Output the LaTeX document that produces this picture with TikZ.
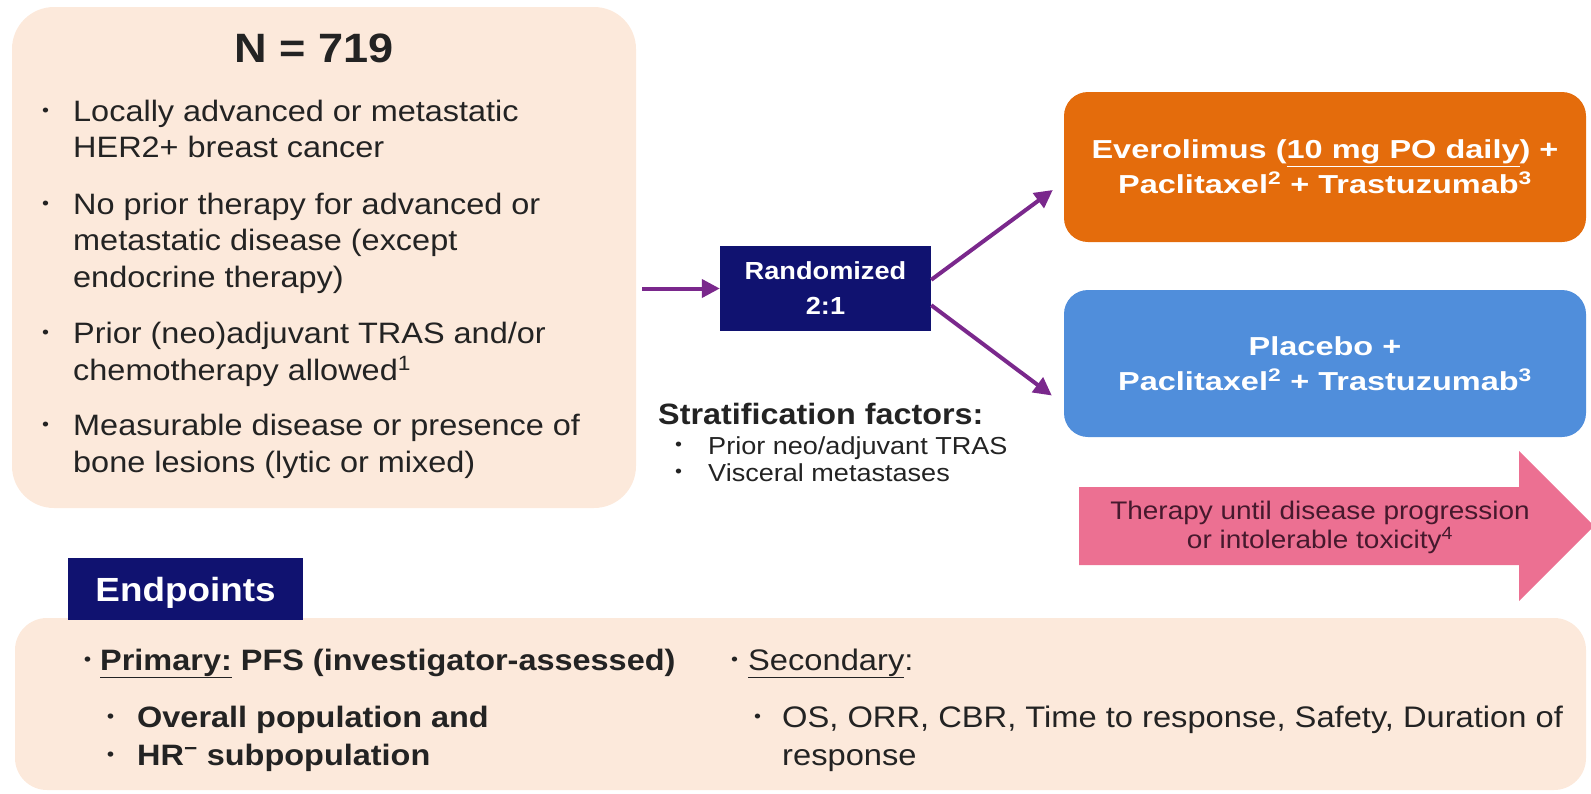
\documentclass[tikz,border=0pt]{standalone}
\usepackage{fontspec}
\setmainfont{Liberation Sans}[FakeStretch=1.1]
\newfontfamily\armfont{Liberation Sans}[FakeStretch=1.25]
\usepackage{tikz}
\usetikzlibrary{positioning, arrows.meta, calc}

\definecolor{peach}{RGB}{252,233,219}
\definecolor{navyblue}{RGB}{16,18,112}
\definecolor{armorange}{RGB}{228,108,12}
\definecolor{armblue}{RGB}{80,142,219}
\definecolor{linkpurple}{RGB}{122,40,140}
\definecolor{therapypink}{RGB}{236,112,146}
\definecolor{therapytext}{RGB}{70,25,45}
\definecolor{textgrey}{RGB}{35,35,35}

% small round bullet, lifted to the middle of the line
\newcommand{\dotbullet}{\raisebox{0.3ex}{\fontsize{18}{18}\selectfont\textbullet}}
\newcommand{\bulletbox}[1]{\makebox[#1][l]{\dotbullet}}

\begin{document}
\begin{tikzpicture}[x=1pt, y=-1pt,
    panel/.style={fill=peach, rounded corners=42pt},
    armbox/.style={rounded corners=24pt, text=white, align=center, minimum width=522pt, minimum height=150pt, font=\armfont\fontsize{26}{35}\selectfont\bfseries},
    navybox/.style={fill=navyblue, text=white, align=center},
    link/.style={draw=linkpurple, line width=4pt, -{Triangle[length=18pt, width=18pt]}},
    listtext/.style={inner sep=0pt, anchor=base west, text=textgrey},
]

\useasboundingbox (0,0) rectangle (1591,793);

% Eligibility panel
\node[panel, minimum width=624pt, minimum height=501pt] (criteria) at (324,257.5) {};
\node[anchor=base, text=textgrey, font=\fontsize{41}{41}\selectfont\bfseries] (count) at (314.5,62) {N = 719};
\node[listtext, font=\fontsize{29.5}{36.5}\selectfont] (critlist) at (42,121) {%
  \begin{tabular}[t]{@{}l@{}}
  \bulletbox{31pt}Locally advanced or metastatic\\
  \hspace{31pt}HER2+ breast cancer\\[20pt]
  \bulletbox{31pt}No prior therapy for advanced or\\
  \hspace{31pt}metastatic disease (except\\
  \hspace{31pt}endocrine therapy)\\[20pt]
  \bulletbox{31pt}Prior (neo)adjuvant TRAS and/or\\
  \hspace{31pt}chemotherapy allowed\textsuperscript{1}\\[19pt]
  \bulletbox{31pt}Measurable disease or presence of\\
  \hspace{31pt}bone lesions (lytic or mixed)
  \end{tabular}};

% Randomisation and arms
\node[navybox, minimum width=211pt, minimum height=85pt, font=\fontsize{24.7}{35}\selectfont\bfseries] (rand) at (825.5,288.5) {Randomized\\2:1};
\node[armbox, fill=armorange] (evero) at (1325,167) {Everolimus (\underline{10 mg PO daily}) +\\Paclitaxel\textsuperscript{2} + Trastuzumab\textsuperscript{3}};
\node[armbox, fill=armblue, minimum height=147pt] (placebo) at (1325,363.5) {Placebo +\\Paclitaxel\textsuperscript{2} + Trastuzumab\textsuperscript{3}};

\coordinate (randin) at (criteria.east |- rand.west);
\draw[link] ([xshift=6pt]randin) -- (rand.west);
\draw[link] ([yshift=-34pt]rand.north east) -- ([xshift=-11pt, yshift=-23pt]evero.west);
\draw[link] ([yshift=26pt]rand.south east) -- ([xshift=-12pt, yshift=-32pt]placebo.west);

% Stratification
\node[listtext, font=\fontsize{29.4}{33}\selectfont\bfseries] (strat) at (658,424) {Stratification factors:};
\node[listtext, font=\fontsize{24.6}{27}\selectfont] (stratlist) at (675,454) {%
  \begin{tabular}[t]{@{}l@{}}
  \bulletbox{33pt}Prior neo/adjuvant TRAS\\
  \bulletbox{33pt}Visceral metastases
  \end{tabular}};

% Treatment duration
\fill[therapypink] (1079,487) -- (1519,487) -- (1519,451) -- (1594,526) -- (1519,601) -- (1519,565) -- (1079,565) -- cycle;
\node[text=therapytext, align=center, font=\fontsize{25.4}{29}\selectfont] (therapy) at (1320,527) {Therapy until disease progression\\or intolerable toxicity\textsuperscript{4}};

% Endpoints panel
\node[panel, rounded corners=32pt, minimum width=1571pt, minimum height=172pt] (endpanel) at (800.5,704) {};
\node[navybox, minimum width=235pt, minimum height=62pt, text depth=0pt, font=\fontsize{33.5}{33.5}\selectfont\bfseries] (endlabel) at (185.5,589) {Endpoints};
\node[listtext, font=\fontsize{29.5}{38}\selectfont\bfseries] (primary) at (84,670) {%
  \begin{tabular}[t]{@{}l@{}}
  \bulletbox{16pt}\underline{Primary:} PFS (investigator-assessed)\\[19pt]
  \hspace{23pt}\bulletbox{30pt}Overall population and\\
  \hspace{23pt}\bulletbox{30pt}HR\textsuperscript{−} subpopulation
  \end{tabular}};
\node[listtext, font=\fontsize{29.7}{38}\selectfont] (secondary) at (731,670) {%
  \begin{tabular}[t]{@{}l@{}}
  \bulletbox{17pt}\underline{Secondary}:\\[19pt]
  \hspace{23pt}\bulletbox{28pt}OS, ORR, CBR, Time to response, Safety, Duration of\\
  \hspace{51pt}response
  \end{tabular}};

\end{tikzpicture}
\end{document}
